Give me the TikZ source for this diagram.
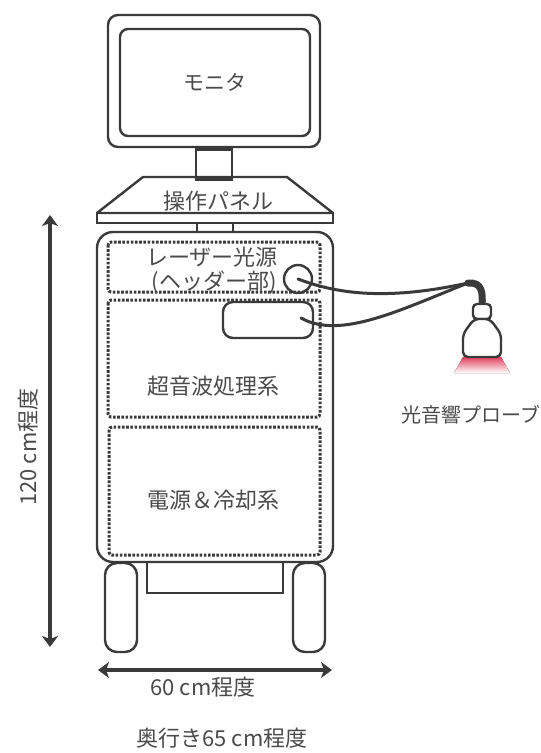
\documentclass[tikz,border=0pt]{standalone}
\usepackage{fontspec}
\newfontfamily\jp{Noto Sans CJK JP}
\usetikzlibrary{arrows.meta,positioning}
\definecolor{ink}{HTML}{3A3A3A}
\definecolor{txt}{HTML}{4A4A4A}
\definecolor{laserred}{HTML}{E0405C}

\begin{document}
\begin{tikzpicture}[
        x=1pt, y=-1pt,
        part/.style={draw=ink, line width=2.4pt},
        unit/.style={draw=ink, line width=3pt, dash pattern=on 2.6pt off 1.6pt, rounded corners=3pt},
        label/.style={font=\jp\fontsize{22}{24}\selectfont, text=txt, inner sep=0pt},
        cable/.style={draw=ink, line width=3pt, line cap=round},
        dim/.style={draw=ink, line width=3.2pt, {Stealth[length=11pt,width=16pt,inset=3pt]}-{Stealth[length=11pt,width=16pt,inset=3pt]}}
    ]
        \useasboundingbox (0,0) rectangle (541,753);

        % Monitor on its stand
        \node[part, rounded corners=10pt, minimum width=212pt, minimum height=132pt] (monitor) at (214,81) {};
        \node[part, rounded corners=8pt, minimum width=190pt, minimum height=107pt] (screen) at (215,82.5) {};
        \node[label, font=\jp\fontsize{21}{23}\selectfont] (mon) at (screen.center) {モニタ};
        \node[part, minimum width=36pt, minimum height=30pt, anchor=north] (neck) at (monitor.south) {};

        % Operation panel
        \draw[part, line join=round] (143,177) -- (287,177) -- (333,213) -- (97,213) -- cycle;
        \draw[part] (97,213) rectangle (333,223);
        \node[label] (panel) at (218,201) {操作パネル};
        \draw[part] (197,223) rectangle (233,232);

        % Cabinet and its units
        \draw[part, rounded corners=16pt] (97,232) rectangle (333,562);
        \draw[unit] (108,242) rectangle (320,292);
        \draw[unit] (108,300) rectangle (320,417);
        \draw[unit] (109,427) rectangle (320,555);
        \node[label] (laser) at (212,257) {レーザー光源};
        \node[label] (head) at (214,282) {(ヘッダー部)};
        \node[label] (us) at (213,386) {超音波処理系};
        \node[label] (power) at (213,500) {電源＆冷却系};

        % Connectors on the front
        \node[part, circle, minimum size=28pt, inner sep=0pt] (hport) at (298,279) {};
        \node[part, rounded corners=10pt, minimum width=90pt, minimum height=36pt] (uport) at (268,320) {};
        \coordinate (uout) at (301,318);

        % Wheels and base
        \draw[part] (147,562) rectangle (283,593);
        \draw[part, rounded corners=12pt] (105,563) rectangle (137,652);
        \draw[part, rounded corners=12pt] (293,563) rectangle (325,652);

        % Probe
        \coordinate (merge) at (468,283);
        \draw[draw=ink, line width=7pt, line cap=round] (merge) .. controls (482,282) and (483,292) .. (482,306);
        \fill[top color=laserred, bottom color=white, draw=none]
            (463,357) -- (501,357) -- (510,373) -- (454,373) -- cycle;
        \draw[part, fill=white, rounded corners=4pt] (473,304) rectangle (491,319);
        \draw[part, fill=white, rounded corners=5pt]
            (474,319) -- (463,334) -- (463,357) -- (501,357) -- (501,334) -- (490,319) -- cycle;
        \node[label, font=\jp\fontsize{20}{22}\selectfont] (probe) at (471,415) {光音響プローブ};

        % Cables
        \draw[cable] (hport.center) .. controls (340,295) and (390,300) .. (merge);
        \draw[cable] (uout) .. controls (340,340) and (400,310) .. (merge);

        % Dimensions
        \coordinate (wl) at (98,670);
        \coordinate (wr) at (332,670);
        \coordinate (ht) at (50,215);
        \coordinate (hb) at (50,647);
        \draw[dim] (wl) -- (wr);
        \draw[dim] (ht) -- (hb);
        \node[label] (width) at (203,687) {60 cm程度};
        \node[label, rotate=90] (height) at (28,447) {120 cm程度};
        \node[label] (depth) at (222,738) {奥行き65 cm程度};
    \end{tikzpicture}
\end{document}
